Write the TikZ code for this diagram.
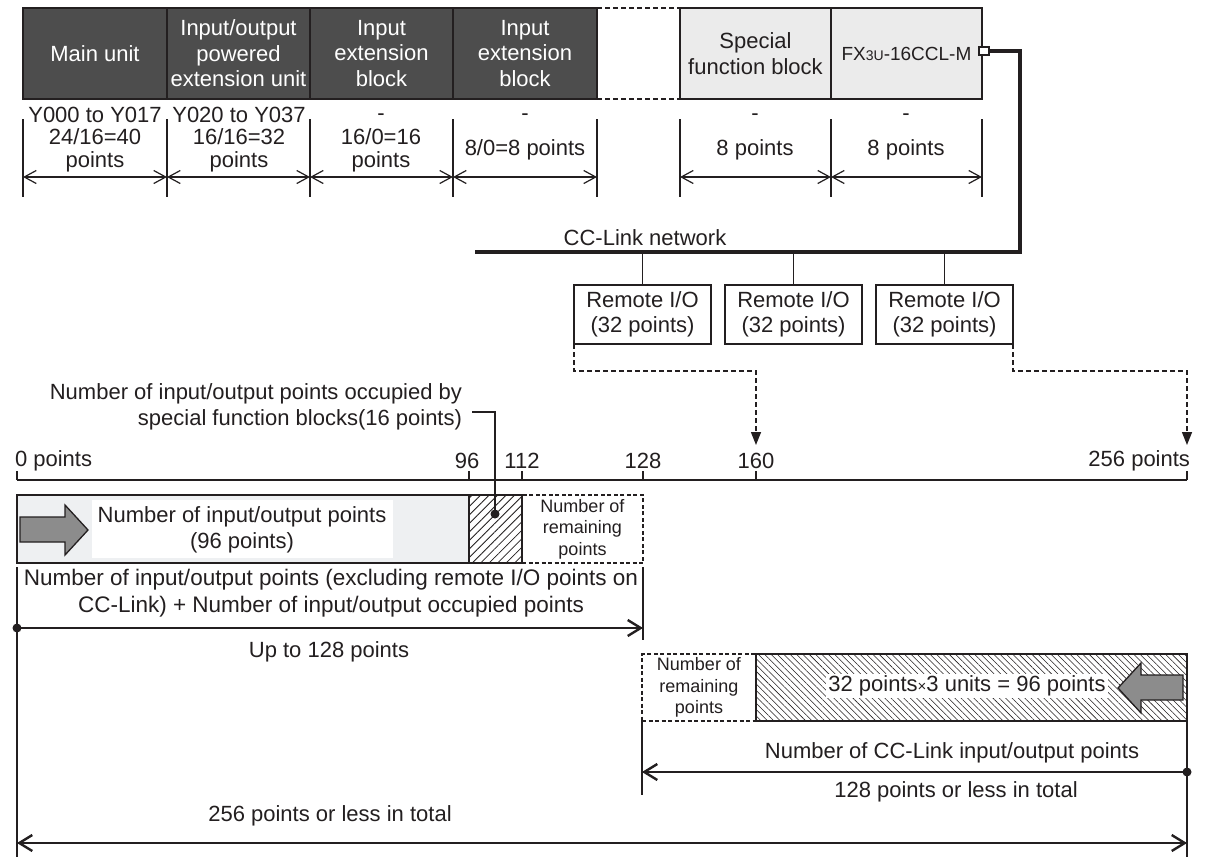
\documentclass[tikz,border=0pt]{standalone}
\usepackage{fontspec}
\setmainfont{Liberation Sans}
\usetikzlibrary{arrows.meta,patterns.meta}
\definecolor{ink}{HTML}{231F20}
\definecolor{dk}{HTML}{4D4D4D}
\definecolor{lt}{HTML}{EBEBEB}
\definecolor{barfill}{HTML}{EEF0F2}
\definecolor{arrfill}{HTML}{8C8C8C}
\newcommand\fsN{\fontsize{22}{25.5}\selectfont}
\newcommand\fsW{\fontsize{22.5}{27}\selectfont}
\newcommand\fsS{\fontsize{18}{21.5}\selectfont}
\newcommand\fsF{\fontsize{19}{22}\selectfont}
\tikzset{
  darkbox/.style={draw=ink, line width=1.6pt, fill=dk, text=white, anchor=north west},
  ltbox/.style={draw=ink, line width=1.4pt, fill=lt, anchor=north west},
  rbox/.style={draw=ink, line width=1.4pt, fill=white, anchor=north west},
  thinline/.style={draw=ink, line width=1.2pt},
  dimarr/.style={draw=ink, line width=1.2pt, {Straight Barb[length=12pt,width=13pt]}-{Straight Barb[length=12pt,width=13pt]}},
  netline/.style={draw=ink, line width=3.4pt},
  dasharr/.style={draw=ink, line width=1.4pt, dash pattern=on 5pt off 3pt, -{Triangle[length=13pt,width=10pt]}},
  gapline/.style={draw=ink, line width=1.4pt, dash pattern=on 5pt off 3pt},
  rulerline/.style={draw=ink, line width=1.8pt},
  tickline/.style={draw=ink, line width=1.5pt},
  hatchA/.style={draw=ink, line width=2pt, pattern={Lines[angle=45,distance=6pt,line width=0.8pt]}, pattern color=ink, anchor=north west},
  hatchB/.style={draw=ink, line width=2pt, pattern={Lines[angle=-45,distance=4.5pt,line width=0.55pt]}, pattern color=ink, anchor=north west},
  dashbox/.style={draw=ink, line width=1.3pt, dash pattern=on 4pt off 2.5pt, anchor=north west, font=\fsS},
  grayarrow/.style={fill=arrfill, draw=ink, line width=1.3pt},
  bigdim/.style={draw=ink, line width=2.4pt},
  barb/.tip={Straight Barb[length=13pt,width=16pt]},
  dotnode/.style={circle, fill=ink, minimum size=9pt}
}
\begin{document}
\begin{tikzpicture}[x=1pt,y=-1pt,
  every node/.style={inner sep=0pt, outer sep=0pt, text=ink, font=\fsN, align=center}]
\fill[white] (0,0) rectangle (1205,857);
\useasboundingbox (0,0) rectangle (1205,857);

% ---------- top row of units ----------
\node[darkbox, minimum width=144pt, minimum height=91pt] (mu) at (23,8) {Main unit};
\node[darkbox, minimum width=143pt, minimum height=91pt] (iop) at (167,8) {Input/output\\powered\\extension unit};
\node[darkbox, minimum width=143pt, minimum height=91pt] (ie1) at (310,8) {Input\\extension\\block};
\node[darkbox, minimum width=144pt, minimum height=91pt] (ie2) at (453,8) {Input\\extension\\block};
\node[ltbox, minimum width=151pt, minimum height=91pt] (sfb) at (680,8) {Special\\function block};
\node[ltbox, minimum width=151pt, minimum height=91pt, font=\fsF] (ccl) at (831,8) {FX{\fontsize{14}{14}\selectfont 3U}-16CCL-M};
\draw[gapline] (ie2.north east) -- (sfb.north west);
\draw[gapline] (ie2.south east) -- (sfb.south west);
\node[draw=ink, line width=1.5pt, fill=white, minimum width=10pt, minimum height=8pt] (sq) at (984,51) {};

% ---------- dimension row ----------
\foreach \x/\n in {23/a,167/b,310/c,453/d,597/e,680/f,831/g,982/h} {
  \coordinate (x\n t) at (\x,119);
  \coordinate (x\n b) at (\x,197);
  \coordinate (x\n m) at (\x,177);
  \draw[thinline] (x\n t) -- (x\n b);
}
\draw[dimarr] (xam) -- (xbm);
\draw[dimarr] (xbm) -- (xcm);
\draw[dimarr] (xcm) -- (xdm);
\draw[dimarr] (xdm) -- (xem);
\draw[dimarr] (xfm) -- (xgm);
\draw[dimarr] (xgm) -- (xhm);

\node (ta1) at (95,115) {Y000 to Y017};
\node (ta2) at (95,137) {24/16=40};
\node (ta3) at (95,162) {points};
\node (tb1) at (239,115) {Y020 to Y037};
\node (tb2) at (239,137) {16/16=32};
\node (tb3) at (239,162) {points};
\node (tc1) at (381,117) {-};
\node (tc2) at (381,137) {16/0=16};
\node (tc3) at (381,162) {points};
\node (td1) at (525,117) {-};
\node (td2) at (525,150) {8/0=8 points};
\node (tf1) at (755,117) {-};
\node (tf2) at (755,150) {8 points};
\node (tg1) at (906,117) {-};
\node (tg2) at (906,150) {8 points};

% ---------- CC-Link network ----------
\coordinate (nR) at (1020,252);
\coordinate (nL) at (475,252);
\draw[netline] (sq.east) -| (nR) -- (nL);
\node (ccn) at (645,238) {CC-Link network};
\node[rbox, minimum width=137pt, minimum height=59pt] (r1) at (574,285) {Remote I/O\\(32 points)};
\node[rbox, minimum width=137pt, minimum height=59pt] (r2) at (725,285) {Remote I/O\\(32 points)};
\node[rbox, minimum width=137pt, minimum height=59pt] (r3) at (876,285) {Remote I/O\\(32 points)};
\draw[thinline] (r1.north) -- (r1.north |- nL);
\draw[thinline] (r2.north) -- (r2.north |- nL);
\draw[thinline] (r3.north) -- (r3.north |- nL);
\coordinate (t160) at (756,445);
\coordinate (t256) at (1187,445);
\draw[dasharr] (r1.south west) -- ++(0,27) -| (t160);
\draw[dasharr] (r3.south east) -- ++(0,27) -| (t256);

% ---------- ruler ----------
\coordinate (p0) at (17,480);
\coordinate (p96) at (469,480);
\coordinate (p112) at (522,480);
\coordinate (p128) at (643,480);
\coordinate (p160) at (756,480);
\coordinate (p256) at (1187,480);
\draw[rulerline] (p0) -- (p256);
\foreach \p in {p0,p96,p112,p128,p160,p256} \draw[tickline] (\p) -- ++(0,-9);
\node[anchor=west] (l0) at (15,461) {0 points};
\node (l96) at (467,461) {96};
\node (l112) at (522,461) {112};
\node (l128) at (643,461) {128};
\node (l160) at (756,461) {160};
\node[anchor=east] (l256) at (1190,461) {256 points};
\node[anchor=east, align=right] (occ) at (462,407) {Number of input/output points occupied by\\special function blocks(16 points)};

% ---------- bar 1 ----------
\node[draw=ink, line width=1.8pt, fill=barfill, minimum width=452pt, minimum height=68pt, anchor=north west] (b1) at (17,495) {};
\node[fill=white, minimum width=301pt, minimum height=58pt, anchor=north west] (b1w) at (92,500) {};
\node (b1t) at (242,530) {Number of input/output points\\(96 points)};
\draw[grayarrow] (20,517) -- (65,517) -- (65,505) -- (88,530) -- (65,555) -- (65,542) -- (20,542) -- cycle;
\node[dashbox, minimum width=121pt, minimum height=68pt] (rm1) at (522,495) {Number of\\remaining\\points};
\node[hatchA, minimum width=53pt, minimum height=68pt] (h1) at (469,495) {};
\coordinate (ldA) at (472,412);
\coordinate (ldB) at (495,412);
\node[dotnode] (dt1) at (495,514) {};
\draw[thinline] (ldA) -- (ldB) -- (dt1.center);

\node[font=\fsW] (t1) at (331,593) {Number of input/output points (excluding remote I/O points on\\CC-Link) + Number of input/output occupied points};
\coordinate (vLa) at (17,567);
\coordinate (vLb) at (17,857);
\draw[thinline] (vLa) -- (vLb);
\coordinate (v128a) at (643,567);
\coordinate (v128b) at (643,640);
\draw[thinline] (v128a) -- (v128b);
\node[dotnode] (d1) at (17,628) {};
\coordinate (e128) at (643,628);
\draw[bigdim, -barb] (d1.center) -- (e128);
\node (u128) at (329,652) {Up to 128 points};

% ---------- bar 2 ----------
\node[dashbox, minimum width=114pt, minimum height=67pt] (rm2) at (642,654) {Number of\\remaining\\points};
\node[hatchB, minimum width=431pt, minimum height=67pt] (h2) at (756,654) {};
\node[fill=white, inner sep=2pt] (b2t) at (967,686) {32 points{\fontsize{15}{15}\selectfont ×}3 units = 96 points};
\draw[grayarrow] (1183,675) -- (1141,675) -- (1141,663) -- (1118,688) -- (1141,713) -- (1141,700) -- (1183,700) -- cycle;

\coordinate (v2a) at (642,721);
\coordinate (v2b) at (642,795);
\draw[thinline] (v2a) -- (v2b);
\coordinate (v3a) at (1187,721);
\coordinate (v3b) at (1187,857);
\draw[thinline] (v3a) -- (v3b);
\node (cct) at (952,753) {Number of CC-Link input/output points};
\node[dotnode] (d2) at (1187,772) {};
\coordinate (e2) at (642,772);
\draw[bigdim, -barb] (d2.center) -- (e2);
\node (c128) at (956,792) {128 points or less in total};
\node (c256) at (330,816) {256 points or less in total};
\coordinate (bL) at (17,843);
\coordinate (bR) at (1187,843);
\draw[bigdim, barb-barb] (bL) -- (bR);
\end{tikzpicture}
\end{document}
